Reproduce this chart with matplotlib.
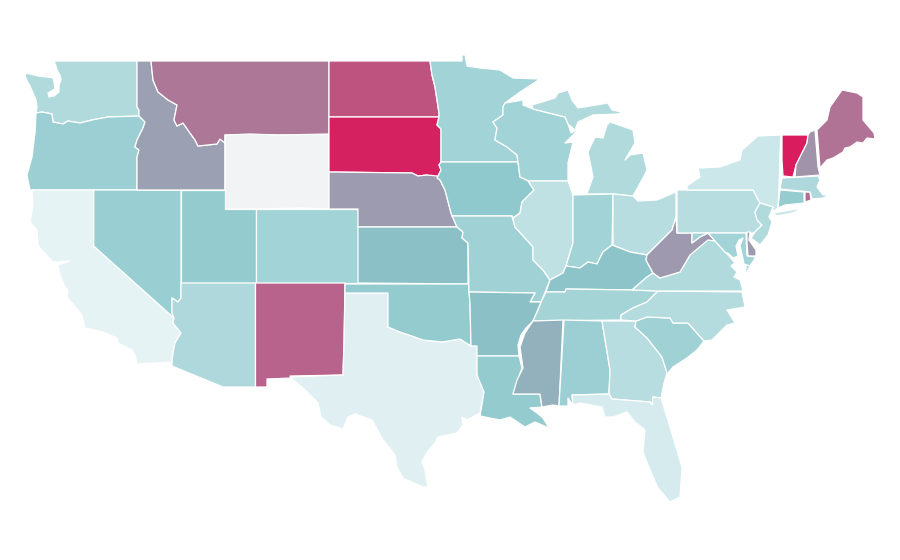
import matplotlib
matplotlib.use("Agg")
import matplotlib.pyplot as plt
from matplotlib.colors import LinearSegmentedColormap, Normalize

# state value, read off the fill colour (None = no data)
STATES = ["WA", "OR", "CA", "NV", "ID", "MT", "WY", "UT", "AZ", "CO", "NM", "TX", "ND", "SD", "NE",
          "KS", "OK", "MN", "IA", "MO", "AR", "LA", "WI", "IL", "MI", "IN", "OH", "KY", "TN", "MS",
          "AL", "GA", "FL", "SC", "NC", "VA", "WV", "PA", "NY", "NJ", "DE", "MD", "CT", "RI", "MA",
          "VT", "NH", "ME"]
VALUES = [18, 25, 1, 26, 45, 62, None, 28, 19, 23, 70, 3, 77, 98, 47,
          32, 28, 23, 29, 24, 32, 28, 23, 13, 18, 23, 16, 31, 22, 38,
          25, 16, 6, 24, 17, 18, 48, 16, 9, 18, 48, 23, 27, 66, 19,
          100, 50, 64]

# map outlines in map units
MT_ID = [(151, 61), (153, 80), (158, 92), (168, 100), (177, 105), (174, 120), (177, 126), (183, 123),
         (190, 133), (195, 140), (198, 146), (217, 144), (220, 139), (225, 143)]
OR_ID = [(139, 116), (145, 122), (143, 128), (137, 140), (135, 147), (139, 150), (137, 157), (137, 190)]
COLUMBIA = [(36, 113), (42, 112), (52, 114), (53, 122), (63, 124), (68, 121), (80, 123), (92, 120), (108, 117), (139, 116)]
COLORADO = [(174, 318), (173, 323), (181, 333), (175, 343), (173, 353), (172, 362)]
HOOVER = [(181, 298), (178, 302), (172, 298), (172, 313), (174, 318)]
RED_RIVER = [(388, 327), (400, 332), (412, 336), (423, 340), (442, 342), (460, 339), (471, 346)]
MO_NE = [(457, 227), (451, 213), (445, 190), (440, 180), (437, 176)]
SD_NE = [(437, 176), (427, 175), (418, 176), (412, 173), (329, 172)]
RED_ND = [(430, 61), (432, 75), (435, 87), (437, 100), (439, 113), (439, 117)]
SD_MN = [(439, 117), (437, 125), (441, 129), (441, 162)]
SD_IA = [(441, 162), (439, 165), (441, 170), (437, 178)]
MN_WI = [(505, 103), (503, 107), (503, 115), (493, 122), (497, 128), (495, 140), (507, 147), (517, 155), (518, 162)]
IA_IL = [(520, 177), (528, 181), (534, 190), (522, 202), (520, 213), (513, 218), (512, 216)]
MO_IL = [(512, 216), (515, 227), (533, 247), (533, 260), (543, 270), (550, 280)]
OHIO_IN = [(612, 245), (603, 252), (597, 264), (588, 262), (580, 268), (566, 266)]
OHIO_OH = [(613, 245), (630, 252), (647, 255)]
KY_WV = [(647, 255), (646, 260), (653, 273)]
TN_NC = [(658, 291), (647, 302), (633, 308), (621, 315), (621, 320)]
MISS_AR = [(541, 302), (537, 312), (533, 321), (526, 328), (521, 335), (518, 345), (519, 356)]
MISS_LA = [(519, 356), (522, 368), (513, 394)]
AL_GA = [(602, 321), (610, 370), (609, 394)]
GA_SC = [(636, 321), (635, 327), (647, 338), (662, 357), (667, 373)]
NC_SC = [(636, 321), (647, 317), (670, 318), (673, 323), (688, 323), (704, 341)]
GA_FL = [(609, 394), (612, 399), (650, 402), (652, 405), (653, 397), (661, 398)]
WV_VA = [(653, 273), (660, 278), (680, 272), (690, 255), (708, 233), (715, 241)]
PA_NJ = [(760, 203), (755, 212), (757, 220), (762, 225), (755, 232)]
VT_NH = [(808, 135), (807, 143), (796, 165), (793, 177)]

OUTLINES = {
    "WA": [[(54, 61), (56, 66), (57, 70), (60, 75), (61, 80), (59, 85), (59, 92), (54, 96), (49, 97), (48, 93),
            (55, 89), (54, 82), (53, 78), (47, 77), (38, 76), (30, 74), (25, 73), (26, 79), (30, 86), (33, 93),
            (36, 100), (37, 107)] + COLUMBIA + [(139, 110), (137, 107), (137, 61)]],
    "OR": [COLUMBIA + OR_ID[1:] + [(30, 190), (27, 175), (32, 157), (35, 133)]],
    "CA": [[(32, 190), (93.7, 190), (93.7, 246)] + COLORADO +
           [(137, 364), (135, 355), (132, 350), (118, 343), (117, 338), (103, 332), (85, 328), (82, 315), (67, 297), (68, 290),
            (65, 287), (60, 275), (58, 265), (70, 261), (57, 262), (53, 262), (40, 248), (38, 245), (37, 230), (30, 222), (33, 207)]],
    "NV": [[(93.7, 190), (181, 190)] + HOOVER + [(93.7, 246)]],
    "ID": [[(137, 61)] + MT_ID + [(225, 190)] + OR_ID[::-1] + [(139, 110), (137, 107)]],
    "MT": [[(151, 61), (329, 61), (329, 135), (225, 135)] + MT_ID[::-1][:-1]],
    "WY": [[(225, 135), (250, 134), (280, 135), (329, 134), (329, 209), (300, 208), (255, 209), (225, 209)]],
    "UT": [[(181, 190), (225, 190), (225, 209), (255.5, 209), (255.5, 283), (181, 283)]],
    "AZ": [[(181, 283), (255.5, 283), (255.5, 387), (223, 387), (172, 366)] + COLORADO[::-1] + HOOVER[::-1]],
    "CO": [[(255.5, 209), (329, 209), (358, 209), (358, 283), (255.5, 283)]],
    "NM": [[(255.5, 283), (345, 283), (344, 343), (343, 375), (290, 376), (292, 378), (267, 379), (267, 387), (255.5, 387)]],
    "TX": [[(345, 293), (388, 293)] + RED_RIVER +
           [(477, 346), (477, 375), (484, 392), (480, 413), (467, 420), (462, 417), (463, 425), (457, 433),
            (438, 437), (435, 443), (427, 452), (422, 462), (425, 470), (428, 487), (423, 487), (403, 478),
            (397, 467), (395, 455), (383, 440), (372, 420), (355, 414), (348, 417), (343, 429), (330, 425),
            (321, 417), (318, 403), (310, 395), (303, 388), (290, 377), (343, 375), (344, 343)]],
    "ND": [[(329, 61)] + RED_ND + [(329, 117)]],
    "SD": [[(329, 117)] + SD_MN + SD_IA[1:] + SD_NE[1:]],
    "NE": [[(329, 172), (329, 209), (358, 209), (358, 227)] + MO_NE + SD_NE[1:]],
    "KS": [[(358, 227), (457, 227), (463, 232), (462, 238), (468, 243), (468, 284), (358, 283)]],
    "OK": [[(345, 284), (468.5, 284), (470, 303)] + RED_RIVER[::-1] + [(388, 293), (345, 293)]],
    "MN": [RED_ND + SD_MN[1:] + [(518, 162)] + MN_WI[::-1] +
           [(520, 92), (540, 79), (513, 78), (500, 70), (480, 68), (467, 66), (465, 55), (462, 55), (462, 61)]],
    "IA": [[(441, 162), (518, 162)] + IA_IL + [(452, 216), (451, 213), (445, 190), (440, 180)] + SD_IA[::-1][:-1]],
    "MO": [[(452, 216)] + MO_IL + [(546, 290), (541, 302), (530, 302), (535, 293), (469, 292), (468, 243), (462, 238), (463, 232), (457, 227)]],
    "AR": [[(469, 292), (535, 293), (530, 302)] + MISS_AR + [(477, 356), (477, 346), (471, 346), (470, 303)]],
    "LA": [[(477, 356)] + MISS_LA + [(540, 394), (542, 407), (530, 408), (537, 413), (543, 418), (549, 428), (535, 422),
                                     (525, 427), (510, 417), (500, 420), (480, 416), (484, 392), (477, 375)]],
    "WI": [MN_WI + [(518, 162), (520, 177), (529, 181), (568, 181), (568, 163), (573, 142), (565, 143), (580, 128), (571, 133),
                    (568, 124), (565, 117), (533, 109), (523, 105), (523, 100)]],
    "IL": [[(528, 181), (568, 181), (573, 195), (573, 243), (566, 266), (563, 273)] + MO_IL[::-1] + IA_IL[::-1][:-1]],
    "MI": [[(532, 105), (555, 98), (558, 93), (568, 90), (572, 100), (578, 108), (608, 103), (612, 110), (622, 112),
            (618, 114), (593, 115), (578, 122), (575, 130), (568, 124), (565, 117), (533, 109)],
           [(610, 122), (633, 130), (635, 143), (625, 160), (630, 155), (643, 153), (647, 170), (643, 178), (633, 196),
            (613, 194), (587, 194), (593, 177), (588, 152), (595, 137), (603, 138), (607, 125)]],
    "IN": [[(573, 195), (613, 194), (612, 245)] + OHIO_IN[1:] + [(573, 243)]],
    "OH": [[(613, 194), (633, 196), (638, 201), (657, 200), (676, 192), (676, 217), (672, 230), (657, 245)] + OHIO_OH[::-1]],
    "KY": [OHIO_IN + [(563, 273), (550, 280), (546, 292), (565, 292), (566, 289), (632, 290), (647, 277)] + KY_WV[::-1] +
           [(630, 252)]],
    "TN": [[(546, 292), (565, 292), (566, 289), (632, 290)] + TN_NC + [(533, 321), (538, 310), (542, 300)]],
    "MS": [[(533, 321), (563, 320), (559, 406), (553, 405), (542, 407), (540, 394), (513, 394), (517, 380), (523, 368),
            (520, 347), (525, 333)]],
    "AL": [[(564, 320)] + AL_GA + [(572, 395), (573, 405), (568, 398), (568, 406), (559, 406)]],
    "GA": [AL_GA[:1] + GA_SC + [(664, 383), (661, 398)] + GA_FL[::-1] + AL_GA[::-1][1:-1]],
    "FL": [[(572, 395)] + GA_FL + [(670, 427), (682, 467), (680, 497), (670, 502), (658, 488), (648, 465), (643, 452),
                                   (645, 430), (635, 422), (627, 412), (613, 417), (605, 417), (602, 407), (580, 403), (573, 405)]],
    "SC": [NC_SC + [(697, 350), (687, 358), (673, 367), (668, 373)] + GA_SC[::-1]],
    "NC": [NC_SC + [(712, 340), (727, 325), (735, 323), (727, 310), (745, 307), (742, 292)] + TN_NC],
    "VA": [[(632, 290), (647, 277)] + WV_VA + [(725, 252), (730, 257), (735, 263), (731, 266), (737, 272), (734, 277),
                                               (740, 280), (743, 291), (658, 291)],
           [(747, 258), (755, 258), (748, 270), (745, 277)]],
    "WV": [[(676, 217), (677, 233), (692, 233), (692, 243), (700, 237), (708, 233), (715, 241), (708, 240), (690, 255), (680, 272),
            (660, 278), (653, 273), (646, 260), (647, 255), (657, 245), (672, 230)]],
    "PA": [[(677, 190), (687, 190), (753, 190), (758, 200)] + PA_NJ + [(753, 233), (677, 233)]],
    "NY": [[(687, 190), (687, 186), (700, 177), (698, 168), (720, 167), (740, 160), (742, 150), (758, 136), (781, 135),
            (780, 153), (779, 190), (778, 208), (772, 212), (773, 207), (760, 203), (753, 190)],
           [(773, 213), (802, 208), (793, 213), (777, 216)]],
    "NJ": [[(760, 203), (773, 207), (769, 217), (772, 222), (768, 235), (760, 245), (751, 238)] + PA_NJ[::-1][:-1]],
    "DE": [[(747, 232), (750, 232), (749, 240), (756, 250), (756, 256), (748, 256), (747, 243)]],
    "MD": [[(692, 233), (746, 233), (747, 256), (756, 257), (750, 266), (744, 264), (742, 254), (740, 246), (743, 238),
            (739, 240), (736, 246), (738, 256), (733, 258), (729, 254), (725, 252), (715, 241), (708, 233), (700, 237), (692, 243)]],
    "CT": [[(780, 190), (804, 192), (804, 203), (785, 205), (778, 208)]],
    "RI": [[(805, 192), (810, 192), (811, 200), (805, 202)]],
    "MA": [[(782, 178), (818, 176), (820, 180), (817, 187), (823, 195), (830, 195), (823, 198), (812, 199), (810, 192), (780, 189)]],
    "VT": [[(782, 135)] + VT_NH + [(783, 176), (782, 160)]],
    "NH": [[(810, 132), (815, 130), (818, 167), (820, 175), (795, 177)] + VT_NH[::-1][1:]],
    "ME": [[(817, 130), (827, 120), (830, 107), (842, 90), (857, 93), (863, 97), (863, 120), (874, 133), (875, 139), (867, 138),
            (863, 143), (857, 142), (850, 147), (845, 148), (843, 152), (833, 158), (827, 160), (820, 168)]],
}

cmap = LinearSegmentedColormap.from_list(
    "rate", [(0, "#e8f4f6"), (0.30, "#8cc8cc"), (0.32, "#8cbfc6"), (1, "#d81c5d")])
norm = Normalize(0, 100)
NO_DATA = "#f2f3f5"

fig = plt.figure(figsize=(9, 5.6), dpi=100)
ax = fig.add_axes([0, 0, 1, 1])
for state, value in zip(STATES, VALUES):
    color = NO_DATA if value is None else cmap(norm(value))
    for ring in OUTLINES[state]:
        xs, ys = zip(*ring)
        ax.fill(xs, ys, facecolor=color, edgecolor="white", lw=0.9, joinstyle="round")
ax.set_xlim(0, 900)
ax.set_ylim(560, 0)
ax.axis("off")
fig.savefig("out.png", dpi=100)
